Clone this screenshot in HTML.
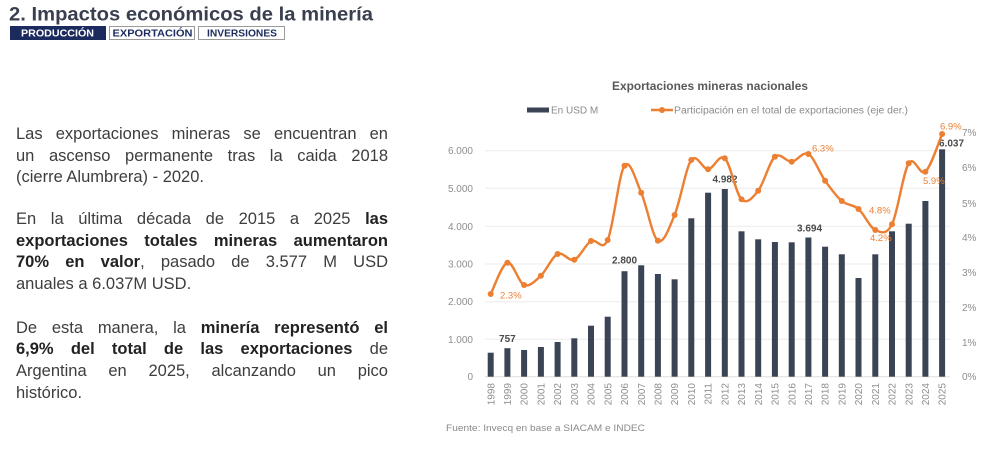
<!DOCTYPE html>
<html>
<head>
<meta charset="utf-8">
<style>
  html,body{margin:0;padding:0;background:#fff;}
  body{width:1007px;height:463px;position:relative;overflow:hidden;font-family:"Liberation Sans",sans-serif;}
  .para{position:absolute;left:16px;width:372px;font-size:16.5px;line-height:21.7px;color:#3d3d3d;}
  .para div{white-space:nowrap;}
  .j{text-align:justify;text-align-last:justify;white-space:normal !important;}
  b{color:#222;font-weight:bold;}
  svg{position:absolute;left:0;top:0;}
</style>
</head>
<body>
<svg width="1007" height="463" viewBox="0 0 1007 463" font-family="Liberation Sans, sans-serif">
  <!-- Header -->
  <text x="9" y="20.7" font-size="19.5" font-weight="bold" fill="#3a3f50" textLength="364" lengthAdjust="spacingAndGlyphs">2. Impactos económicos de la minería</text>
  <rect x="10" y="26" width="96" height="14" fill="#1b2b5e"/>
  <text x="21" y="36.6" font-size="10" font-weight="bold" fill="#ffffff" textLength="73" lengthAdjust="spacingAndGlyphs">PRODUCCIÓN</text>
  <rect x="109.5" y="26.5" width="85" height="13" fill="none" stroke="#9a9a9a" stroke-width="1"/>
  <text x="112.5" y="36.6" font-size="10" font-weight="bold" fill="#1b2b5e" textLength="80" lengthAdjust="spacingAndGlyphs">EXPORTACIÓN</text>
  <rect x="198.5" y="26.5" width="86" height="13" fill="none" stroke="#9a9a9a" stroke-width="1"/>
  <text x="207" y="36.6" font-size="10" font-weight="bold" fill="#1b2b5e" textLength="70" lengthAdjust="spacingAndGlyphs">INVERSIONES</text>

  <!-- Chart title -->
  <text x="710" y="90" font-size="12" font-weight="bold" fill="#595959" text-anchor="middle" textLength="196" lengthAdjust="spacingAndGlyphs">Exportaciones mineras nacionales</text>

  <!-- Legend -->
  <rect x="527" y="107.5" width="22" height="5" fill="#3a4455"/>
  <text x="551" y="113.5" font-size="10" fill="#8a8a8a">En USD M</text>
  <line x1="651" y1="110" x2="673" y2="110" stroke="#ec7f32" stroke-width="2.5"/>
  <circle cx="662" cy="110" r="3" fill="#ec7f32"/>
  <text x="674" y="113.5" font-size="10" fill="#8a8a8a" textLength="234" lengthAdjust="spacingAndGlyphs">Participación en el total de exportaciones (eje der.)</text>

  <!-- Gridlines -->
  <g stroke="#ebebeb" stroke-width="1">
    <line x1="485" y1="150.7" x2="950" y2="150.7"/>
    <line x1="485" y1="188.3" x2="950" y2="188.3"/>
    <line x1="485" y1="226.3" x2="950" y2="226.3"/>
    <line x1="485" y1="264" x2="950" y2="264"/>
    <line x1="485" y1="301.7" x2="950" y2="301.7"/>
    <line x1="485" y1="339.3" x2="950" y2="339.3"/>
    <line x1="485" y1="376.7" x2="950" y2="376.7" stroke="#dedede"/>
  </g>

  <!-- Left axis labels -->
  <g font-size="10" fill="#8e8e8e" text-anchor="end">
    <text x="473" y="154.2">6.000</text>
    <text x="473" y="191.8">5.000</text>
    <text x="473" y="229.8">4.000</text>
    <text x="473" y="267.5">3.000</text>
    <text x="473" y="305.2">2.000</text>
    <text x="473" y="342.8">1.000</text>
    <text x="473" y="380.2">0</text>
  </g>

  <!-- Right axis labels -->
  <g font-size="10" fill="#8e8e8e">
    <text x="962" y="136.2">7%</text>
    <text x="962" y="170.8">6%</text>
    <text x="962" y="206.8">5%</text>
    <text x="962" y="240.8">4%</text>
    <text x="962" y="275.8">3%</text>
    <text x="962" y="310.8">2%</text>
    <text x="962" y="345.8">1%</text>
    <text x="962" y="380.2">0%</text>
  </g>

  <!-- Bars -->
  <g fill="#3a4455">
    <rect x="487.7" y="352.7" width="6" height="24.0"/>
    <rect x="504.4" y="348.2" width="6" height="28.5"/>
    <rect x="521.1" y="350.0" width="6" height="26.7"/>
    <rect x="537.9" y="347.0" width="6" height="29.7"/>
    <rect x="554.6" y="342.0" width="6" height="34.7"/>
    <rect x="571.3" y="338.3" width="6" height="38.4"/>
    <rect x="588.0" y="325.7" width="6" height="51.0"/>
    <rect x="604.7" y="316.7" width="6" height="60.0"/>
    <rect x="621.5" y="271.2" width="6" height="105.5"/>
    <rect x="638.2" y="265.3" width="6" height="111.4"/>
    <rect x="654.9" y="274.0" width="6" height="102.7"/>
    <rect x="671.6" y="279.3" width="6" height="97.4"/>
    <rect x="688.3" y="218.3" width="6" height="158.4"/>
    <rect x="705.1" y="192.7" width="6" height="184.0"/>
    <rect x="721.8" y="189.0" width="6" height="187.7"/>
    <rect x="738.5" y="231.3" width="6" height="145.4"/>
    <rect x="755.2" y="239.3" width="6" height="137.4"/>
    <rect x="771.9" y="242.0" width="6" height="134.7"/>
    <rect x="788.7" y="242.3" width="6" height="134.4"/>
    <rect x="805.4" y="237.5" width="6" height="139.2"/>
    <rect x="822.1" y="246.7" width="6" height="130.0"/>
    <rect x="838.8" y="254.3" width="6" height="122.4"/>
    <rect x="855.5" y="278.0" width="6" height="98.7"/>
    <rect x="872.3" y="254.3" width="6" height="122.4"/>
    <rect x="889.0" y="231.3" width="6" height="145.4"/>
    <rect x="905.7" y="223.7" width="6" height="153.0"/>
    <rect x="922.4" y="201.0" width="6" height="175.7"/>
    <rect x="939.1" y="149.3" width="6" height="227.4"/>
  </g>

  <!-- Bar data labels -->
  <g font-size="10" font-weight="bold" fill="#4a4a4a" text-anchor="middle">
    <text x="507.4" y="341.8">757</text>
    <text x="624.5" y="263.6">2.800</text>
    <text x="725" y="182.6">4.982</text>
    <text x="809.5" y="231.3">3.694</text>
    <text x="951.5" y="146.6">6.037</text>
  </g>

  <!-- Line -->
  <path id="pline" fill="none" stroke="#ec7f32" stroke-width="2.4" stroke-linejoin="round" stroke-linecap="round"
    d="M490.7 294 L507.4 262.7 L524.1 285 L540.9 275.7 L557.6 254 L574.3 259.7 L591 241 L607.7 240 L624.5 165.7 L641.2 192.7 L657.9 240.7 L674.6 215 L691.3 160 L708.1 169.3 L724.8 158.3 L741.5 199.3 L758.2 190.7 L774.9 156.7 L791.7 161.7 L808.4 154 L825.1 180.7 L841.8 201 L858.5 209 L875.3 230 L892 224.3 L908.7 163.3 L925.4 171.7 L942.1 134"/>
  <g id="markers" fill="#ec7f32"></g>

  <!-- Percent labels -->
  <g font-size="9.5" fill="#ec7f32">
    <text x="500" y="298.5">2.3%</text>
    <text x="812" y="151.5">6.3%</text>
    <text x="869" y="213.5">4.8%</text>
    <text x="870" y="241">4.2%</text>
    <text x="923" y="184">5.9%</text>
    <text x="940" y="129.5">6.9%</text>
  </g>

  <!-- X axis labels -->
  <g id="years" font-size="10" fill="#8e8e8e"></g>

  <!-- Source -->
  <text x="446" y="431" font-size="9.5" fill="#8a8a8a" textLength="199" lengthAdjust="spacingAndGlyphs">Fuente: Invecq en base a SIACAM e INDEC</text>
</svg>

<div class="para" style="top:124px;">
  <div class="j">Las exportaciones mineras se encuentran en</div>
  <div class="j">un ascenso permanente tras la caida 2018</div>
  <div>(cierre Alumbrera) - 2020.</div>
</div>
<div class="para" style="top:209px;">
  <div class="j">En la última década de 2015 a 2025 <b>las</b></div>
  <div class="j"><b>exportaciones totales mineras aumentaron</b></div>
  <div class="j"><b>70% en valor</b>, pasado de 3.577 M USD</div>
  <div>anuales a 6.037M USD.</div>
</div>
<div class="para" style="top:317.5px;">
  <div class="j">De esta manera, la <b>minería representó el</b></div>
  <div class="j"><b>6,9% del total de las exportaciones</b> de</div>
  <div class="j">Argentina en 2025, alcanzando un pico</div>
  <div>histórico.</div>
</div>

<script>
(function(){
  var xs=[],ys=[294,262.7,285,275.7,254,259.7,241,240,165.7,192.7,240.7,215,160,169.3,158.3,199.3,190.7,156.7,161.7,154,180.7,201,209,230,224.3,163.3,171.7,134];
  for(var i=0;i<28;i++){xs.push(490.7+16.72*i);}
  var ns="http://www.w3.org/2000/svg";
  // smooth path (Catmull-Rom -> Bezier)
  var d="M"+xs[0].toFixed(1)+" "+ys[0];
  for(var i=0;i<27;i++){
    var x0=xs[Math.max(i-1,0)],y0=ys[Math.max(i-1,0)];
    var x1=xs[i],y1=ys[i],x2=xs[i+1],y2=ys[i+1];
    var x3=xs[Math.min(i+2,27)],y3=ys[Math.min(i+2,27)];
    var c1x=x1+(x2-x0)/6,c1y=y1+(y2-y0)/6;
    var c2x=x2-(x3-x1)/6,c2y=y2-(y3-y1)/6;
    d+=" C"+c1x.toFixed(1)+" "+c1y.toFixed(1)+" "+c2x.toFixed(1)+" "+c2y.toFixed(1)+" "+x2.toFixed(1)+" "+y2.toFixed(1);
  }
  document.getElementById("pline").setAttribute("d",d);
  var m=document.getElementById("markers");
  for(var i=0;i<28;i++){
    var c=document.createElementNS(ns,"circle");
    c.setAttribute("cx",xs[i].toFixed(1));c.setAttribute("cy",ys[i]);c.setAttribute("r","3");
    m.appendChild(c);
  }
  var g=document.getElementById("years");
  for(var i=0;i<28;i++){
    var t=document.createElementNS(ns,"text");
    var x=xs[i]+3.6;
    t.setAttribute("transform","translate("+x.toFixed(1)+",383) rotate(-90)");
    t.setAttribute("text-anchor","end");
    t.textContent=String(1998+i);
    g.appendChild(t);
  }
})();
</script>
</body>
</html>
